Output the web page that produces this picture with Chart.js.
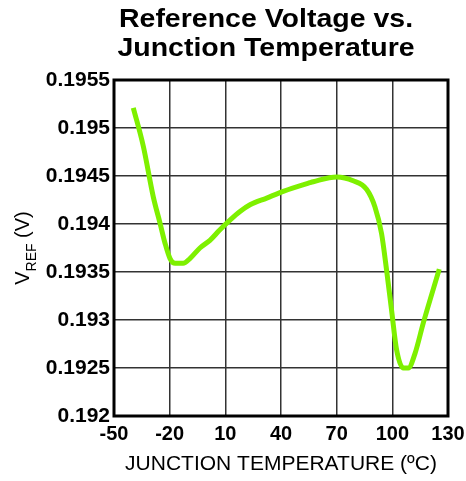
<!DOCTYPE html>
<html>
<head>
<meta charset="utf-8">
<script src="https://cdn.jsdelivr.net/npm/chart.js@4/dist/chart.umd.min.js"></script>
<style>
  html, body { margin: 0; padding: 0; background: #ffffff; }
  #wrap { width: 466px; height: 481px; }
</style>
</head>
<body>
<div id="wrap"><canvas id="c" width="466" height="481"></canvas></div>
<script>
// ---- data ----
const temperatures = [-39.6, -34.2, -28.8, -25.2, -22.5, -19.8, -17.1, -12.7, -9.1, -3.7, 1.7, 7.1, 12.5, 17.9, 23.3, 32.3, 41.2, 55.6, 57.4, 70, 78.9, 86.2, 90.6, 94.2, 96.9, 99.6, 102.3, 105.9, 108.6, 112.2, 116.7, 125.3];
const vref = [0.19521, 0.19481, 0.19428, 0.19401, 0.19380, 0.19364, 0.19359, 0.19359, 0.19364, 0.19375, 0.19383, 0.19394, 0.19404, 0.19413, 0.19420, 0.19427, 0.19434, 0.19443, 0.19444, 0.19449, 0.19445, 0.19436, 0.19418, 0.19390, 0.19352, 0.19310, 0.19269, 0.19250, 0.19250, 0.19265, 0.19297, 0.19353];
const xTickValues = [-50, -20, 10, 40, 70, 100, 130];
const yTickLabels = ["0.192", "0.1925", "0.193", "0.1935", "0.194", "0.1945", "0.195", "0.1955"];
const titleLines = ["Reference Voltage vs.", "Junction Temperature"];
const xAxisTitle = "JUNCTION TEMPERATURE (\u00BAC)";
const yAxisTitleMain = "V";
const yAxisTitleSub = "REF";
const yAxisTitleTail = " (V)";

const FONT = "'Liberation Sans', Arial, Helvetica, sans-serif";

const titlePlugin = {
  id: 'chartTitle',
  afterDraw(chart) {
    const ctx = chart.ctx;
    ctx.save();
    ctx.fillStyle = '#000';
    ctx.font = 'bold 25px ' + FONT;
    ctx.textAlign = 'center';
    ctx.textBaseline = 'alphabetic';
    const baselines = [27, 56];
    titleLines.forEach((line, i) => {
      ctx.save();
      ctx.translate(266, baselines[i]);
      ctx.scale(1.14, 1);
      ctx.fillText(line, 0, 0);
      ctx.restore();
    });
    ctx.restore();
  }
};

const yTitlePlugin = {
  id: 'yTitle',
  afterDraw(chart) {
    const ctx = chart.ctx;
    const area = chart.chartArea;
    ctx.save();
    ctx.fillStyle = '#000';
    ctx.textBaseline = 'alphabetic';
    const mainFont = '20px ' + FONT;
    const subFont = '14px ' + FONT;
    ctx.font = mainFont;
    const w1 = ctx.measureText(yAxisTitleMain).width;
    const w3 = ctx.measureText(yAxisTitleTail).width;
    ctx.font = subFont;
    const w2 = ctx.measureText(yAxisTitleSub).width;
    const total = w1 + w2 + w3;
    const cy = (area.top + area.bottom) / 2;
    ctx.translate(29, cy);
    ctx.rotate(-Math.PI / 2);
    let x = -total / 2;
    ctx.font = mainFont;
    ctx.fillText(yAxisTitleMain, x, 0);
    x += w1;
    ctx.font = subFont;
    ctx.fillText(yAxisTitleSub, x, 7);
    x += w2;
    ctx.font = mainFont;
    ctx.fillText(yAxisTitleTail, x, 0);
    ctx.restore();
  }
};

const framePlugin = {
  id: 'frame',
  afterDatasetsDraw(chart) {
    const a = chart.chartArea;
    const ctx = chart.ctx;
    ctx.save();
    ctx.strokeStyle = '#000';
    ctx.lineWidth = 3;
    ctx.strokeRect(a.left, a.top, a.right - a.left, a.bottom - a.top);
    ctx.restore();
  }
};

new Chart(document.getElementById('c'), {
  type: 'line',
  data: {
    datasets: [{
      data: temperatures.map((t, i) => ({ x: t, y: vref[i] })),
      borderColor: '#7ef000',
      borderWidth: 5,
      pointRadius: 0,
      cubicInterpolationMode: 'monotone',
      fill: false
    }]
  },
  options: {
    responsive: false,
    animation: false,
    devicePixelRatio: 1,
    layout: { autoPadding: false, padding: { left: 0, right: 18, top: 80, bottom: 0 } },
    plugins: {
      legend: { display: false },
      tooltip: { enabled: false },
      title: { display: false }
    },
    scales: {
      x: {
        type: 'linear',
        min: -50,
        max: 130,
        afterBuildTicks(scale) { scale.ticks = xTickValues.map(v => ({ value: v })); },
        afterFit(scale) { scale.height = 65; scale.paddingRight = 0; scale.paddingLeft = 0; },
        border: { display: false },
        grid: { color: '#333', lineWidth: 1.5, drawTicks: false },
        ticks: {
          color: '#000',
          padding: 6,
          font: { family: FONT, size: 20, weight: 'bold' },
          maxRotation: 0,
          callback: v => String(v)
        },
        title: {
          display: true,
          text: xAxisTitle,
          color: '#000',
          font: { family: FONT, size: 21 },
          padding: { top: 6 }
        }
      },
      y: {
        type: 'linear',
        min: 0.192,
        max: 0.1955,
        afterBuildTicks(scale) { scale.ticks = yTickLabels.map(s => ({ value: parseFloat(s) })); },
        afterFit(scale) { scale.width = 114; scale.paddingTop = 0; scale.paddingBottom = 0; },
        border: { display: false },
        grid: { color: '#333', lineWidth: 1.5, drawTicks: false },
        ticks: {
          color: '#000',
          padding: 4,
          font: { family: FONT, size: 21, weight: 'bold' },
          callback: (v) => {
            const idx = yTickLabels.findIndex(s => Math.abs(parseFloat(s) - v) < 1e-9);
            return idx >= 0 ? yTickLabels[idx] : '';
          }
        }
      }
    }
  },
  plugins: [titlePlugin, yTitlePlugin, framePlugin]
});
</script>
</body>
</html>
